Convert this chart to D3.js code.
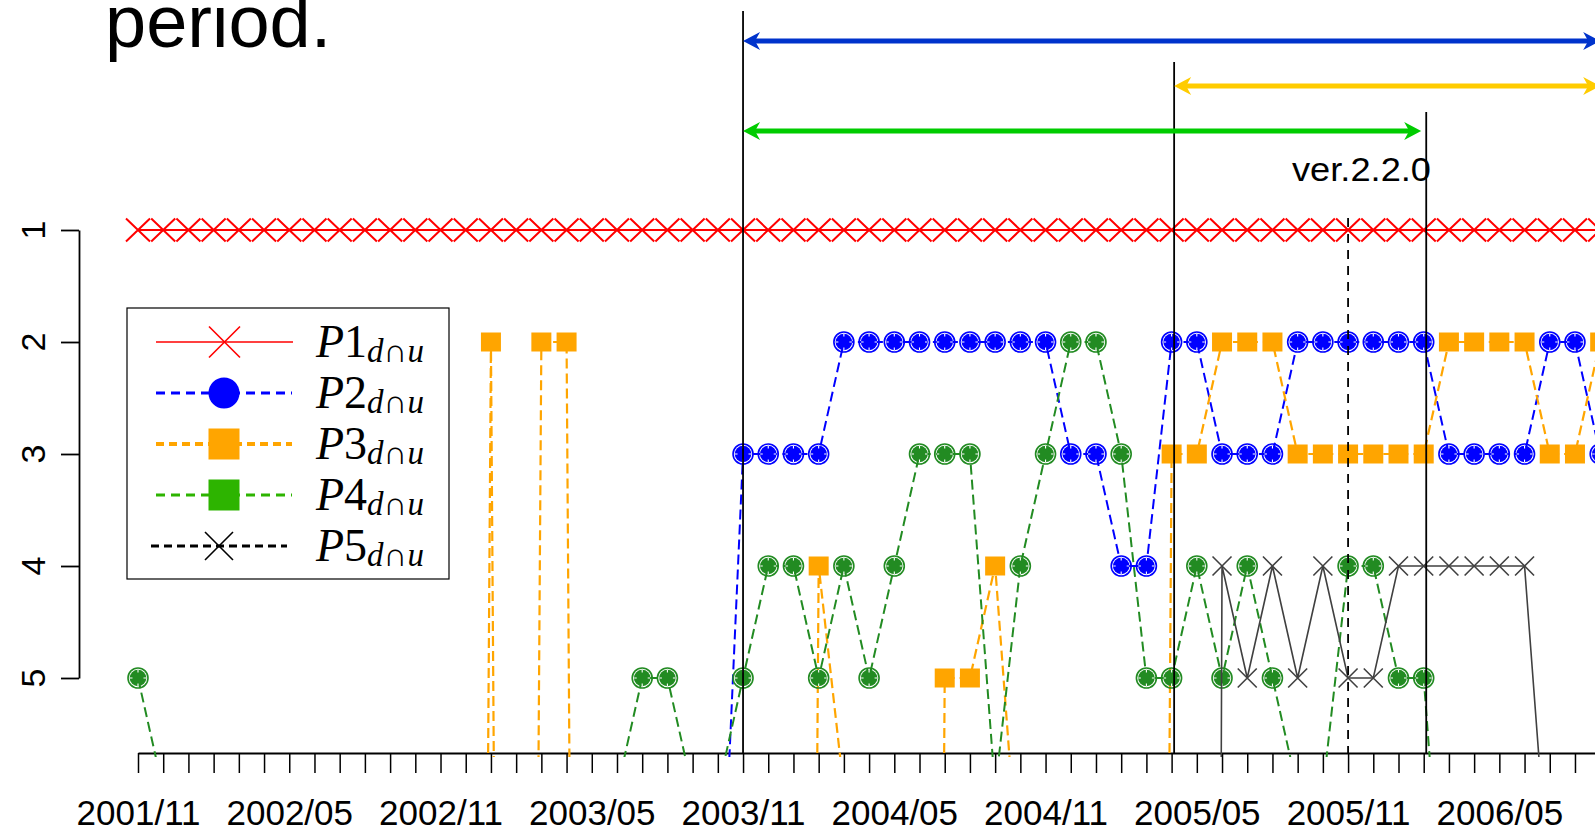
<!DOCTYPE html>
<html>
<head>
<meta charset="utf-8">
<style>
  html, body { margin: 0; padding: 0; background: #fff; overflow: hidden; }
  svg { display: block; }
</style>
</head>
<body>
<div id="chart"></div>
<script src="https://d3js.org/d3.v7.min.js"></script>
<script>
  // month index 0 = 2001/11, one step per month
  const monthIdx = d3.range(0, 59);
  const tickMonths = [0, 6, 12, 18, 24, 30, 36, 42, 48, 54];
  const tickLabels = ["2001/11", "2002/05", "2002/11", "2003/05", "2003/11",
                      "2004/05", "2004/11", "2005/05", "2005/11", "2006/05"];
  const rankTicks = [1, 2, 3, 4, 5];

  // rank of each pattern per month (null = no data, >5 = below the axis)
  const p1 = [1,1,1,1,1,1,1,1,1,1, 1,1,1,1,1,1,1,1,1,1, 1,1,1,1,1,1,1,1,1,1,
              1,1,1,1,1,1,1,1,1,1, 1,1,1,1,1,1,1,1,1,1, 1,1,1,1,1,1,1,1,1];
  const p2 = [null,null,null,null,null,null,null,null,null,null,
              null,null,null,null,null,null,null,null,null,null,
              null,null,null,8,3,3,3,3,2,2,
              2,2,2,2,2,2,2,3,3,4,
              4,2,2,3,3,3,2,2,2,2,
              2,2,3,3,3,3,2,2,3];
  const p3 = [null,null,null,null,null,null,null,null,null,null,
              null,null,null,35,2,35,2,2,35,null,
              null,null,null,null,null,null,35,4,6,null,
              null,35,5,5,4,7,null,null,null,null,
              35,3,3,2,2,2,3,3,3,3,
              3,3,2,2,2,2,3,3,2];
  const p4 = [5,6,null,null,null,null,null,null,null,null,
              null,null,null,null,null,null,null,null,null,6,
              5,5,6,6,5,4,4,5,4,5,
              4,3,3,3,6,4,3,2,2,3,
              5,5,4,5,4,5,6,6,4,4,
              5,5,8,null,null,null,null,null,null];
  const p5 = [null,null,null,null,null,null,null,null,null,null,
              null,null,null,null,null,null,null,null,null,null,
              null,null,null,null,null,null,null,null,null,null,
              null,null,null,null,null,null,null,null,null,null,
              null,null,60,4,5,4,5,4,5,5,
              4,4,4,4,4,4,7,null,null];

  // release marks (months) and the spans shown by the arrows
  const releaseMonths = [24, 41.1, 51.1];
  const dashedMonth = [48];
  const spanStart = [24, 41.1, 24];
  const spanEnd = [58, 58, 50.9];
  const versionLabel = "ver.2.2.0";
  const titleText = "period.";

  const W = 1595, H = 832;
  const sans = "'Liberation Sans', Arial, Helvetica, sans-serif";
  const serif = "'Liberation Serif', 'DejaVu Serif', 'Times New Roman', serif";

  const svg = d3.select('#chart').append('svg')
      .attr('width', W).attr('height', H)
      .style('font-family', sans);

  const x = d3.scaleLinear().domain([0, 58]).range([138, 138 + 58 * 25.21]);
  const y = d3.scaleLinear().domain([1, 5]).range([230, 678]);
  const baseY = 753;

  svg.append('defs').append('clipPath').attr('id', 'plotClip')
     .append('rect').attr('x', 80).attr('y', 150).attr('width', W).attr('height', 757 - 150);

  // title fragment
  svg.append('text').attr('x', 105).attr('y', 47)
     .attr('font-size', 74).text(titleText);

  // x axis
  const xAxis = d3.axisBottom(x)
      .tickValues(monthIdx)
      .tickSize(20).tickSizeOuter(0).tickPadding(27)
      .tickFormat(d => {
        const i = tickMonths.indexOf(d);
        return i >= 0 ? tickLabels[i] : '';
      });
  const gx = svg.append('g').attr('transform', `translate(0,${baseY})`).call(xAxis);
  gx.select('.domain').attr('stroke', '#000').attr('stroke-width', 2);
  gx.selectAll('.tick line').attr('stroke', '#000').attr('stroke-width', 1.5);
  gx.selectAll('.tick text').attr('font-size', 35).attr('font-family', sans).attr('fill', '#000');

  // y axis
  const yAxis = d3.axisLeft(y).tickValues(rankTicks).tickSize(18).tickSizeOuter(0).tickFormat('');
  const gy = svg.append('g').attr('transform', 'translate(79,0)').call(yAxis);
  gy.select('.domain').attr('stroke', '#000').attr('stroke-width', 1.8);
  gy.selectAll('.tick line').attr('stroke', '#000').attr('stroke-width', 1.8);
  svg.selectAll('.ylab').data(rankTicks).enter().append('text')
     .attr('class', 'ylab')
     .attr('transform', d => `translate(45,${y(d)}) rotate(-90)`)
     .attr('text-anchor', 'middle')
     .attr('font-size', 34)
     .text(d => d);

  // series
  const plot = svg.append('g').attr('clip-path', 'url(#plotClip)');

  const lineGen = d3.line()
      .defined(d => d.v != null)
      .x(d => x(d.m)).y(d => y(d.v));

  function toPts(arr) { return arr.map((v, m) => ({ m, v })); }

  function drawCross(g, pts, half, halfH, color, sw) {
    g.selectAll(null).data(pts).enter().append('path')
     .attr('d', d => `M${x(d.m) - half},${y(d.v) - halfH}L${x(d.m) + half},${y(d.v) + halfH}` +
                     `M${x(d.m) - half},${y(d.v) + halfH}L${x(d.m) + half},${y(d.v) - halfH}`)
     .attr('stroke', color).attr('stroke-width', sw).attr('fill', 'none');
  }

  function drawDot(g, pts, color) {
    const mk = g.selectAll(null).data(pts).enter().append('g')
       .attr('transform', d => `translate(${x(d.m)},${y(d.v)})`);
    mk.append('circle').attr('r', 10).attr('fill', 'none').attr('stroke', color).attr('stroke-width', 1.6);
    mk.append('circle').attr('r', 8.3).attr('fill', color);
    mk.append('path').attr('d', 'M0,-8V8M-8,0H8')
      .attr('stroke', '#fff').attr('stroke-width', 1.1)
      .attr('stroke-dasharray', '2.5,11,2.5').attr('fill', 'none');
  }

  function drawSquare(g, pts, color) {
    g.selectAll(null).data(pts).enter().append('rect')
     .attr('x', d => x(d.m) - 10).attr('y', d => y(d.v) - 9.5)
     .attr('width', 20).attr('height', 19).attr('fill', color);
  }

  const visible = arr => toPts(arr).filter(d => d.v != null && d.v <= 5);

  // P1
  const g1 = plot.append('g');
  g1.append('path').datum(toPts(p1)).attr('d', lineGen)
    .attr('fill', 'none').attr('stroke', '#ff0000').attr('stroke-width', 2);
  drawCross(g1, visible(p1), 12, 11.5, '#ff0000', 2);

  // P2
  const g2 = plot.append('g');
  g2.append('path').datum(toPts(p2)).attr('d', lineGen)
    .attr('fill', 'none').attr('stroke', '#0000ff').attr('stroke-width', 2)
    .attr('stroke-dasharray', '10,5');
  drawDot(g2, visible(p2), '#0000ff');

  // P3
  const g3 = plot.append('g');
  g3.append('path').datum(toPts(p3)).attr('d', lineGen)
    .attr('fill', 'none').attr('stroke', '#ffa500').attr('stroke-width', 2.2)
    .attr('stroke-dasharray', '10,5');
  drawSquare(g3, visible(p3), '#ffa500');

  // P4
  const g4 = plot.append('g');
  g4.append('path').datum(toPts(p4)).attr('d', lineGen)
    .attr('fill', 'none').attr('stroke', '#228b22').attr('stroke-width', 2)
    .attr('stroke-dasharray', '10,5');
  drawDot(g4, visible(p4), '#228b22');

  // P5
  const g5 = plot.append('g');
  g5.append('path').datum(toPts(p5)).attr('d', lineGen)
    .attr('fill', 'none').attr('stroke', '#404040').attr('stroke-width', 1.6);
  drawCross(g5, visible(p5), 9.5, 9.5, '#404040', 1.6);

  // release lines
  const lineTops = [11, 62, 112];
  svg.selectAll('.rel').data(releaseMonths).enter().append('line')
     .attr('class', 'rel')
     .attr('x1', d => x(d)).attr('x2', d => x(d))
     .attr('y1', (d, i) => lineTops[i]).attr('y2', baseY)
     .attr('stroke', '#000').attr('stroke-width', 1.8);
  svg.selectAll('.dline').data(dashedMonth).enter().append('line')
     .attr('class', 'dline')
     .attr('x1', d => x(d)).attr('x2', d => x(d))
     .attr('y1', 218).attr('y2', baseY)
     .attr('stroke', '#000').attr('stroke-width', 1.8)
     .attr('stroke-dasharray', '9,7');

  // span arrows
  const arrowY = [41, 86, 131];
  const arrowColor = ['#0033cc', '#ffcc00', '#00cc00'];
  spanStart.forEach((s, i) => {
    const x0 = x(s), x1 = x(spanEnd[i]), yy = arrowY[i], c = arrowColor[i];
    svg.append('line').attr('x1', x0 + 8).attr('x2', x1 - 8)
       .attr('y1', yy).attr('y2', yy)
       .attr('stroke', c).attr('stroke-width', 5);
    svg.append('path')
       .attr('d', `M${x0},${yy}L${x0 + 17},${yy - 9}L${x0 + 12},${yy}L${x0 + 17},${yy + 9}Z` +
                  `M${x1},${yy}L${x1 - 17},${yy - 9}L${x1 - 12},${yy}L${x1 - 17},${yy + 9}Z`)
       .attr('fill', c);
  });

  svg.append('text').attr('x', 1292).attr('y', 181)
     .attr('font-size', 34).attr('textLength', 139).attr('lengthAdjust', 'spacingAndGlyphs')
     .text(versionLabel);

  // legend
  const legNames = ['1', '2', '3', '4', '5'];
  const legY = [342, 393, 444, 495, 546];
  const leg = svg.append('g');
  leg.append('rect').attr('x', 127).attr('y', 308).attr('width', 322).attr('height', 271)
     .attr('fill', '#fff').attr('stroke', '#000').attr('stroke-width', 1.2);

  const legStyle = [
    { c: '#ff0000', w: 1.6, dash: null, x0: 156, x1: 293 },
    { c: '#0000ff', w: 3, dash: '9,6', x0: 156, x1: 292 },
    { c: '#ffa500', w: 4, dash: '8,5', x0: 156, x1: 292 },
    { c: '#2db400', w: 3, dash: '9,6', x0: 156, x1: 292 },
    { c: '#000000', w: 3, dash: '8,5', x0: 151, x1: 287 }
  ];
  legStyle.forEach((s, i) => {
    const yy = legY[i];
    leg.append('line').attr('x1', s.x0).attr('x2', s.x1).attr('y1', yy).attr('y2', yy)
       .attr('stroke', s.c).attr('stroke-width', s.w)
       .attr('stroke-dasharray', s.dash);
    const cx = (s.x0 + s.x1) / 2;
    if (i === 0 || i === 4) {
      const h = i === 0 ? 15.5 : 14;
      leg.append('path')
         .attr('d', `M${cx - h},${yy - h}L${cx + h},${yy + h}M${cx - h},${yy + h}L${cx + h},${yy - h}`)
         .attr('stroke', s.c).attr('stroke-width', 1.6).attr('fill', 'none');
    } else if (i === 1) {
      leg.append('circle').attr('cx', cx).attr('cy', yy).attr('r', 15.5).attr('fill', s.c);
    } else {
      leg.append('rect').attr('x', cx - 15.5).attr('y', yy - 15.5)
         .attr('width', 31).attr('height', 31).attr('fill', s.c);
    }
    const t = leg.append('text').attr('x', 316).attr('y', yy + 15)
       .attr('font-family', serif).attr('font-size', 46);
    t.append('tspan').attr('font-style', 'italic').text('P');
    t.append('tspan').text(legNames[i]);
    t.append('tspan').attr('font-size', 33).attr('dy', 5).attr('font-style', 'italic').text('d');
    t.append('tspan').attr('font-size', 33).text('\u2229');
    t.append('tspan').attr('font-size', 33).attr('font-style', 'italic').text('u');
  });
</script>
</body>
</html>
